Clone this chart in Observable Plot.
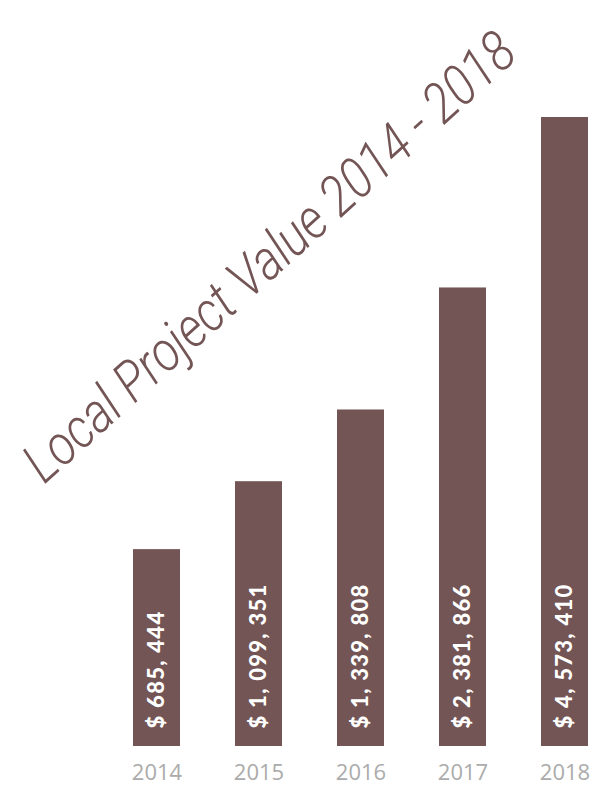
<!DOCTYPE html>
<html>
<head>
<meta charset="utf-8">
<script src="https://cdn.jsdelivr.net/npm/d3@7"></script>
<script src="https://cdn.jsdelivr.net/npm/@observablehq/plot@0.6"></script>
<style>
  html, body { margin: 0; padding: 0; background: #ffffff; }
  #chart { position: relative; width: 592px; height: 787px; overflow: hidden; }
</style>
</head>
<body>
<div id="chart"></div>
<script>
// ---- data ----
const years = ["2014", "2015", "2016", "2017", "2018"];
const values = [685444, 1099351, 1339808, 2381866, 4573410];
// bar lengths as drawn in the reference (index, tallest bar = 100)
const barLengthIndex = [31.3, 42.1, 53.5, 72.9, 100];
const titleText = "Local Project Value 2014 - 2018";

const fmt = v => "$ " + d3.format(",")(v).replace(/,/g, ", ");
const data = years.map((y, i) => ({year: y, value: values[i], len: barLengthIndex[i], label: fmt(values[i])}));

const barColor = "#735555";

const plot = Plot.plot({
  width: 592,
  height: 787,
  marginLeft: 129,
  marginRight: 0,
  marginTop: 117,
  marginBottom: 41,
  style: {background: "transparent", fontFamily: "Lato, 'Open Sans', sans-serif"},
  x: {domain: years, paddingInner: 0.544, paddingOuter: 0.02, label: null},
  y: {domain: [0, 100], axis: null},
  marks: [
    Plot.barY(data, {x: "year", y: "len", fill: barColor}),
    Plot.text(data, {
      x: "year", y: 0, text: "label", rotate: -90, textAnchor: "start",
      dy: -18, fill: "white", fontSize: 22, fontWeight: 900
    }),
    Plot.axisX({tickSize: 0, tickPadding: 18, fontSize: 22, color: "#ababab", label: null})
  ]
});

document.getElementById("chart").appendChild(plot);

const svg = d3.select(plot);
svg.selectAll("g[aria-label='text'] text").attr("letter-spacing", "1.3px");
svg.selectAll("g[aria-label='x-axis tick label'] text")
  .style("font-family", "'Open Sans', sans-serif")
  .style("font-size", "22px")
  .style("font-weight", 400)
  .attr("fill", "#ababab");

// handwritten-style diagonal title
svg.append("text")
  .attr("transform", "translate(272,260) rotate(-42)")
  .attr("text-anchor", "middle")
  .attr("dominant-baseline", "middle")
  .style("font-family", "Roboto, 'DejaVu Sans', sans-serif")
  .style("font-style", "italic")
  .style("font-weight", 300)
  .style("font-size", "56px")
  .attr("fill", barColor)
  .attr("textLength", 640)
  .attr("lengthAdjust", "spacingAndGlyphs")
  .text(titleText);
</script>
</body>
</html>
